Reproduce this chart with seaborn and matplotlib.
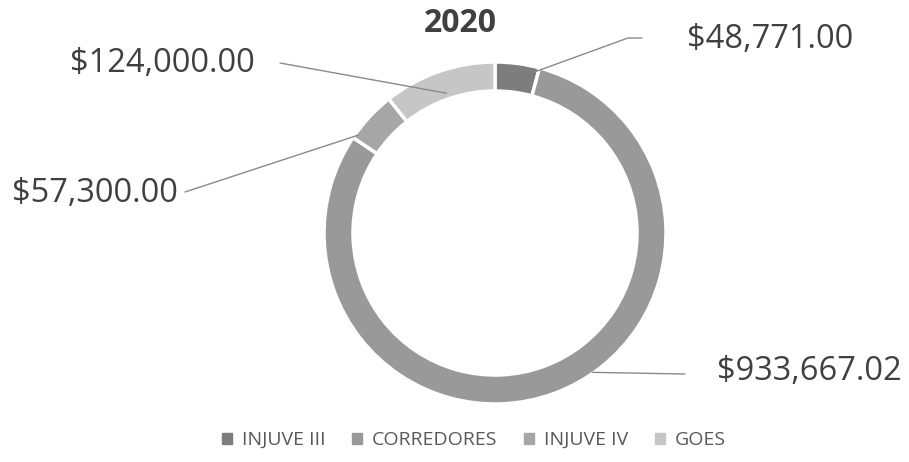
import matplotlib
matplotlib.use("Agg")
import matplotlib.pyplot as plt
import seaborn as sns
import numpy as np

sns.set_theme(style="white")
plt.rcParams['font.family'] = ['Open Sans', 'DejaVu Sans']

# data
categories = ['INJUVE III', 'CORREDORES', 'INJUVE IV', 'GOES']
values = [48771.00, 933667.02, 57300.00, 124000.00]
colors = ['#7d7d7d', '#999999', '#a6a6a6', '#c6c6c6']
title = '2020'

H = 462
# label placement (pixel coords from top-left), leader line ends
label_pos = [(687, 40), (717, 372), (12, 193), (70, 64)]
line_end = [(642, 38), (685, 374), (185, 192), (280, 63)]
line_knee = [(628, 38), None, None, None]
# anchor on the wedge: fraction along the wedge, distance from centre
anchor = [(0.92, 166), (0.45, 170), (0.1, 168), (0.5, 148)]

fig = plt.figure(figsize=(9.09, 4.62), dpi=100)
ax = fig.add_axes([0, 0, 1, 1])

center = (495, H - 233)
radius = 171
width = 29
wedges, _ = ax.pie(values, colors=colors, startangle=90, counterclock=False,
                   center=center, radius=radius,
                   wedgeprops=dict(width=width, edgecolor='white', linewidth=2.5))
ax.set_xlim(0, 909)
ax.set_ylim(0, H)
ax.set_aspect('equal')
ax.axis('off')

total = sum(values)
start = np.cumsum([0] + values[:-1])
for i in range(len(values)):
    f, r = anchor[i]
    ang = np.deg2rad(90 - 360 * (start[i] + f * values[i]) / total)
    xs = [center[0] + r * np.cos(ang)]
    ys = [center[1] + r * np.sin(ang)]
    if line_knee[i] is not None:
        xs.append(line_knee[i][0])
        ys.append(H - line_knee[i][1])
    xs.append(line_end[i][0])
    ys.append(H - line_end[i][1])
    ax.plot(xs, ys, color='#8a8a8a', lw=1)
    ax.text(label_pos[i][0], H - label_pos[i][1], f'${values[i]:,.2f}',
            ha='left', va='center', fontsize=23.5, color='#404040')

ax.text(460, H - 24, title, ha='center', va='center', fontsize=23,
        fontweight='bold', color='#404040')

handles = [plt.Rectangle((0, 0), 1, 1, color=c) for c in colors]
fig.legend(handles, categories, loc='center', bbox_to_anchor=(474 / 909, 1 - 440 / H),
           ncol=4, frameon=False, fontsize=14, handlelength=0.5, handleheight=0.5,
           handletextpad=0.5, columnspacing=1.4, labelcolor='#595959')

fig.savefig('out.png', dpi=100)
